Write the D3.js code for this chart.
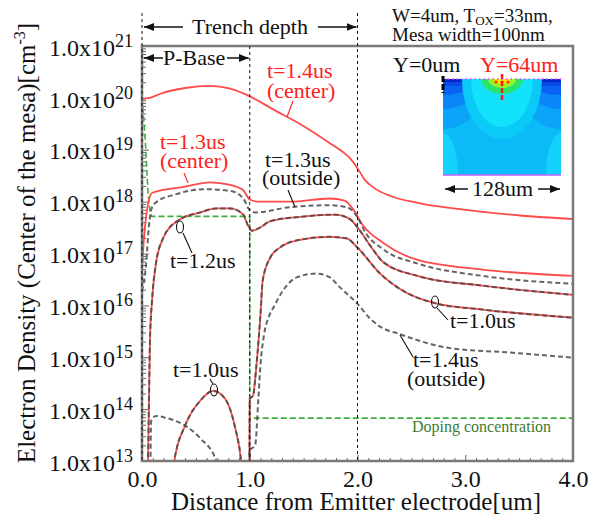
<!DOCTYPE html>
<html lang="en">
  <head>
    <meta charset="UTF-8" />
    <title>Electron density along the mesa</title>
    <script src="https://d3js.org/d3.v7.min.js"></script>
    <style>
      body {
        margin: 0;
        background-color: #ffffff;
      }
      svg {
        font-family: "Liberation Serif", "Times New Roman", serif;
      }
    </style>
  </head>
  <body>
    <div id="chart"></div>
    <script>
      // Curves: [distance from emitter (um), electron density (cm^-3)]
      // values below 1e13 fall off the bottom of the axis and get clipped
      const t14Center = [
        [0, 9.5e19], [0.07, 1.0e20], [0.17, 1.2e20], [0.4, 1.55e20], [0.63, 1.7e20],
        [0.82, 1.5e20], [1.0, 1.07e20], [1.23, 5.8e19], [1.47, 3.1e19], [1.74, 1.35e19],
        [1.88, 8.5e18], [1.93, 6.9e18], [2.0, 4.4e18], [2.07, 2.6e18], [2.16, 1.8e18],
        [2.3, 1.3e18], [2.58, 9.3e17], [3.04, 6.8e17], [3.51, 5.4e17], [4.0, 4.6e17]
      ];
      const t13Center = [
        [0, 5.4e16], [0.015, 1.6e17], [0.04, 5.5e17], [0.07, 1.2e18], [0.1, 1.5e18],
        [0.4, 1.95e18], [0.63, 2.35e18], [0.82, 2.1e18], [0.94, 1.66e18], [1.0, 1.1e18],
        [1.08, 1.0e18], [1.37, 1.0e18], [1.74, 1.15e18], [1.88, 1.05e18], [1.96, 7.1e17],
        [2.05, 3.5e17], [2.24, 1.6e17], [2.55, 7.6e16], [3.16, 4.9e16], [4.0, 3.7e16]
      ];
      const t13Outside = [
        [0, 1.9e16], [0.037, 5.9e16], [0.065, 3.5e17], [0.093, 7.8e17], [0.139, 1.0e18],
        [0.31, 1.38e18], [0.58, 1.74e18], [0.82, 1.6e18], [0.94, 1.15e18], [1.0, 6.8e17],
        [1.05, 6.2e17], [1.37, 7.8e17], [1.74, 8.5e17], [1.9, 7.8e17], [2.0, 5.0e17],
        [2.07, 2.6e17], [2.24, 1.2e17], [2.58, 6.2e16], [3.16, 3.7e16], [4.0, 2.6e16]
      ];
      // t=1.2us and t=1.0us: center and outside lie on top of each other
      const t12 = [
        [0.045, 1e12], [0.056, 1e13], [0.074, 2.1e15], [0.093, 1.23e16], [0.13, 6.5e16],
        [0.195, 1.95e17], [0.34, 4.4e17], [0.54, 6.2e17], [0.69, 7.4e17], [0.82, 7.4e17],
        [0.94, 5.6e17], [0.98, 3.6e17], [1.02, 2.75e17], [1.1, 3.2e17], [1.19, 4.2e17],
        [1.47, 5.1e17], [1.79, 5.6e17], [1.93, 4.6e17], [2.0, 3.2e17], [2.12, 1.4e17],
        [2.24, 6.8e16], [2.58, 3.6e16], [3.16, 2.4e16], [4.0, 1.6e16]
      ];
      const t10 = [
        [0.25, 1e12], [0.3, 1e13], [0.4, 4.8e13], [0.54, 1.45e14], [0.66, 2.25e14],
        [0.77, 1.6e14], [0.86, 4.8e13], [0.92, 1e13], [0.96, 1e12], [0.995, 1e12],
        [1.0, 1.6e14], [1.03, 1.8e14], [1.06, 6.3e14], [1.1, 6.9e15], [1.12, 3.0e16],
        [1.19, 8.3e16], [1.28, 1.3e17], [1.44, 1.8e17], [1.74, 2.1e17], [1.9, 1.95e17],
        [2.0, 1.3e17], [2.21, 4.1e16], [2.39, 2.1e16], [2.72, 1.1e16], [3.16, 8.3e15],
        [4.0, 5.8e15]
      ];
      const t14Outside = [
        [0.075, 1e12], [0.085, 5.9e13], [0.13, 7.4e13], [0.22, 6.8e13], [0.4, 4.8e13],
        [0.54, 2.75e13], [0.69, 1e13], [0.75, 1e12], [0.995, 1e12], [1.0, 1.6e13],
        [1.05, 2.0e13], [1.08, 1.6e14], [1.1, 7.4e14], [1.13, 2.5e15], [1.18, 6.3e15],
        [1.22, 9.1e15], [1.31, 1.95e16], [1.44, 3.5e16], [1.62, 4.1e16], [1.74, 3.5e16],
        [1.84, 2.2e16], [2.0, 1.07e16], [2.12, 5.5e15], [2.21, 3.9e15], [2.39, 2.8e15],
        [2.86, 1.5e15], [3.42, 1.23e15], [4.0, 9.8e14]
      ];
      const doping = [
        [0, 1e20], [0.03, 1.6e19], [0.055, 1.6e18], [0.075, 6e17], [0.09, 5.2e17],
        [1.0, 5.2e17], [1.0, 6.7e13], [4.0, 6.7e13]
      ];

      const xTicks = [0, 1, 2, 3, 4];
      const yExponents = [13, 14, 15, 16, 17, 18, 19, 20, 21];
      const regionLines = [0, 1, 2]; // surface, P-base end, trench bottom

      const width = 606,
        height = 516;
      const plot = { left: 142, right: 573, top: 46, bottom: 461 };

      const svg = d3
        .select("#chart")
        .append("svg")
        .attr("width", width)
        .attr("height", height);

      svg.append("rect").attr("width", width).attr("height", height).attr("fill", "#fff");

      const x = d3.scaleLinear().domain([0, 4]).range([plot.left, plot.right]);
      const y = d3.scaleLog().domain([1e13, 1e21]).range([plot.bottom, plot.top]);

      const defs = svg.append("defs");
      defs
        .append("clipPath")
        .attr("id", "plotClip")
        .append("rect")
        .attr("x", plot.left)
        .attr("y", plot.top)
        .attr("width", plot.right - plot.left)
        .attr("height", plot.bottom - plot.top);

      defs
        .append("marker")
        .attr("id", "arrow")
        .attr("viewBox", "0 0 10 8")
        .attr("refX", 10)
        .attr("refY", 4)
        .attr("markerWidth", 10)
        .attr("markerHeight", 8)
        .attr("markerUnits", "userSpaceOnUse")
        .attr("orient", "auto")
        .append("path")
        .attr("d", "M0,0 L10,4 L0,8 Z")
        .attr("fill", "#111");

      // ---- axes: minor and major ticks point inward ----
      const yMinor = [];
      for (let e = 13; e < 21; e++) {
        for (let k = 2; k <= 9; k++) yMinor.push(k * Math.pow(10, e));
      }
      const xMinor = d3.range(0, 40).map((i) => i / 10).filter((v) => v % 1 !== 0);

      const gy = svg.append("g").attr("transform", `translate(${plot.left},0)`);
      gy.call(d3.axisLeft(y).tickValues(yMinor).tickSize(-4).tickFormat(""));
      const gyMajor = gy.append("g").call(
        d3
          .axisLeft(y)
          .tickValues(yExponents.map((e) => Math.pow(10, e)))
          .tickSize(-7)
          .tickPadding(9)
      );
      gy.selectAll(".domain").remove();
      gy.selectAll("line").attr("stroke", "#666");
      gyMajor.selectAll("text").each(function (d) {
        const t = d3.select(this);
        t.text(null)
          .attr("font-family", "Liberation Serif")
          .attr("font-size", 24)
          .attr("fill", "#111")
          .attr("dy", "0.38em");
        t.append("tspan").text("1.0x10");
        t.append("tspan")
          .text(Math.round(Math.log10(d)))
          .attr("font-size", 18)
          .attr("dy", -9);
      });

      const gx = svg.append("g").attr("transform", `translate(0,${plot.bottom})`);
      gx.call(d3.axisBottom(x).tickValues(xMinor).tickSize(-3).tickFormat(""));
      const gxMajor = gx.append("g").call(
        d3.axisBottom(x).tickValues(xTicks).tickSize(-6).tickPadding(9).tickFormat(d3.format(".1f"))
      );
      gx.selectAll(".domain").remove();
      gx.selectAll("line").attr("stroke", "#666");
      gxMajor.selectAll("text")
        .attr("font-family", "Liberation Serif")
        .attr("font-size", 24)
        .attr("fill", "#111");

      // ---- inset: 2D contour snapshot of the cell ----
      const iw = 118,
        ih = 96;
      const inset = svg.append("g").attr("transform", "translate(443,79)");
      defs
        .append("clipPath")
        .attr("id", "insetClip")
        .append("rect")
        .attr("width", iw)
        .attr("height", ih);
      const ig = inset.append("g").attr("clip-path", "url(#insetClip)");
      ig.append("rect").attr("width", iw).attr("height", ih).attr("fill", "#0bbaf6");
      [0, iw].forEach((cx) => {
        ig.append("ellipse").attr("cx", cx).attr("cy", ih).attr("rx", 15).attr("ry", 42).attr("fill", "#13d2fb");
        ig.append("ellipse").attr("cx", cx).attr("cy", 0).attr("rx", 44).attr("ry", 50).attr("fill", "#0ba4f8");
        ig.append("ellipse").attr("cx", cx).attr("cy", 0).attr("rx", 38).attr("ry", 30).attr("fill", "#0a86f8");
        ig.append("ellipse").attr("cx", cx).attr("cy", 0).attr("rx", 34).attr("ry", 16).attr("fill", "#0862f2");
      });
      ig.append("rect").attr("width", iw).attr("height", 7).attr("fill", "#0848e6");
      ig.append("rect").attr("width", iw).attr("height", 3).attr("fill", "#0428c8");
      ig.append("ellipse").attr("cx", 59).attr("cy", 0).attr("rx", 40).attr("ry", 60).attr("fill", "#0bcaf8");
      ig.append("ellipse").attr("cx", 59).attr("cy", 0).attr("rx", 31).attr("ry", 48).attr("fill", "#12e2fc");
      ig.append("ellipse").attr("cx", 59).attr("cy", 0).attr("rx", 21).attr("ry", 15).attr("fill", "#28e46a");
      ig.append("ellipse").attr("cx", 59).attr("cy", 0).attr("rx", 14).attr("ry", 9).attr("fill", "#9cf02a");
      ig.append("ellipse").attr("cx", 59).attr("cy", 0).attr("rx", 8).attr("ry", 5).attr("fill", "#ffe600");
      [53, 59, 65].forEach((cx) => {
        ig.append("circle").attr("cx", cx).attr("cy", 3).attr("r", 1.6).attr("fill", "#ff3a00");
      });
      inset.append("line").attr("x1", 0).attr("x2", iw).attr("y1", 0).attr("y2", 0)
        .attr("stroke", "#e050ff").attr("stroke-width", 1.6).attr("stroke-dasharray", "1.5,3");
      inset.append("line").attr("x1", 0).attr("x2", iw).attr("y1", ih).attr("y2", ih)
        .attr("stroke", "#c060ff").attr("stroke-width", 1.5);
      inset.append("line").attr("x1", 59).attr("x2", 59).attr("y1", -5).attr("y2", 22)
        .attr("stroke", "#ff1a1a").attr("stroke-width", 2.5).attr("stroke-dasharray", "5,2");
      inset.append("line").attr("x1", 0).attr("x2", 0).attr("y1", -3).attr("y2", 14)
        .attr("stroke", "#000").attr("stroke-width", 3).attr("stroke-dasharray", "6,2");

      // ---- curves ----
      const smooth = d3
        .line()
        .x((d) => x(d[0]))
        .y((d) => y(d[1]))
        .curve(d3.curveMonotoneX);
      const straight = d3
        .line()
        .x((d) => x(d[0]))
        .y((d) => y(d[1]));
      const curves = svg.append("g").attr("clip-path", "url(#plotClip)");

      curves
        .append("path")
        .datum(doping)
        .attr("d", straight)
        .attr("fill", "none")
        .attr("stroke", "#3fae3f")
        .attr("stroke-width", 1.6)
        .attr("stroke-dasharray", "6,3");

      // center of the mesa: red solid
      [t14Center, t13Center, t12, t10].forEach((data) => {
        curves
          .append("path")
          .datum(data)
          .attr("d", smooth)
          .attr("fill", "none")
          .attr("stroke", "#ff4a4a")
          .attr("stroke-width", 1.8);
      });
      // outside of the mesa: gray dashed
      [t13Outside, t12, t10, t14Outside].forEach((data) => {
        curves
          .append("path")
          .datum(data)
          .attr("d", smooth)
          .attr("fill", "none")
          .attr("stroke", "#4a4a4a")
          .attr("stroke-opacity", 0.85)
          .attr("stroke-width", 2)
          .attr("stroke-dasharray", "5,3");
      });

      // frame
      svg
        .append("rect")
        .attr("x", plot.left)
        .attr("y", plot.top)
        .attr("width", plot.right - plot.left)
        .attr("height", plot.bottom - plot.top)
        .attr("fill", "none")
        .attr("stroke", "#7a7a7a")
        .attr("stroke-width", 2.5);

      // region boundaries
      svg
        .selectAll(".region")
        .data(regionLines)
        .enter()
        .append("line")
        .attr("class", "region")
        .attr("x1", (d) => x(d))
        .attr("x2", (d) => x(d))
        .attr("y1", (d) => (d === 1 ? plot.top : 13))
        .attr("y2", plot.bottom)
        .attr("stroke", "#111")
        .attr("stroke-width", 1)
        .attr("stroke-dasharray", "3,3");

      // ---- annotations ----
      function arrow(x1, x2, yy) {
        svg
          .append("line")
          .attr("x1", x1)
          .attr("x2", x2)
          .attr("y1", yy)
          .attr("y2", yy)
          .attr("stroke", "#111")
          .attr("stroke-width", 1.5)
          .attr("marker-end", "url(#arrow)");
      }
      function label(txt, px, py, opts = {}) {
        return svg
          .append("text")
          .attr("x", px)
          .attr("y", py)
          .attr("font-size", opts.size || 22)
          .attr("fill", opts.color || "#111")
          .attr("text-anchor", opts.anchor || "start")
          .text(txt);
      }
      function leader(x1, y1, x2, y2, color) {
        svg
          .append("line")
          .attr("x1", x1)
          .attr("y1", y1)
          .attr("x2", x2)
          .attr("y2", y2)
          .attr("stroke", color || "#111")
          .attr("stroke-width", 1.1);
      }
      function loop(cx, cy) {
        svg
          .append("ellipse")
          .attr("cx", cx)
          .attr("cy", cy)
          .attr("rx", 3.5)
          .attr("ry", 6)
          .attr("fill", "none")
          .attr("stroke", "#111")
          .attr("stroke-width", 1.1);
      }

      arrow(183, x(0) + 2, 27);
      label("Trench depth", 192, 34);
      arrow(318, x(2) - 1, 27);

      arrow(163, x(0) + 2, 58);
      label("P-Base", 163, 65);
      arrow(227, x(1) - 1, 58);

      const spec = label("W=4um, T", 392, 22, { size: 19 });
      spec.append("tspan").text("OX").attr("font-size", 13).attr("dy", 3);
      spec.append("tspan").text("=33nm,").attr("dy", -3);
      label("Mesa width=100nm", 392, 41, { size: 19 });

      label("Y=0um", 393, 72);
      label("Y=64um", 480, 72, { color: "#ff2020" });
      arrow(468, 445, 189);
      label("128um", 472, 196);
      arrow(538, 560, 189);

      label("t=1.4us", 267, 78, { color: "#ff2020" });
      label("(center)", 267, 98, { color: "#ff2020" });
      leader(293, 101, 287, 117, "#ff2020");

      label("t=1.3us", 160, 149, { color: "#ff2020" });
      label("(center)", 160, 168, { color: "#ff2020" });
      leader(184, 173, 188, 183, "#ff2020");

      label("t=1.3us", 265, 167);
      label("(outside)", 262, 185);
      leader(288, 190, 295, 207);

      label("t=1.2us", 170, 268);
      loop(180, 227);
      leader(183, 233, 192, 253);

      label("t=1.0us", 173, 377);
      loop(214, 390);
      leader(210, 379, 213, 384);

      label("t=1.0us", 450, 328);
      loop(435, 302);
      leader(437, 308, 448, 320);

      label("t=1.4us", 413, 367);
      label("(outside)", 407, 386);
      leader(400, 335, 413, 357);

      label("Doping concentration", 412, 432, { size: 16, color: "#3d7a30" });

      // axis titles
      label("Distance from Emitter electrode[um]", 356, 510, { size: 25, anchor: "middle" });
      const yTitle = svg
        .append("text")
        .attr("transform", "translate(35,243) rotate(-90)")
        .attr("text-anchor", "middle")
        .attr("font-size", 25)
        .attr("fill", "#111")
        .text("Electron Density (Center of the mesa)[cm");
      yTitle.append("tspan").text("-3").attr("font-size", 16).attr("dy", -10);
      yTitle.append("tspan").text("]").attr("dy", 10);
    </script>
  </body>
</html>
